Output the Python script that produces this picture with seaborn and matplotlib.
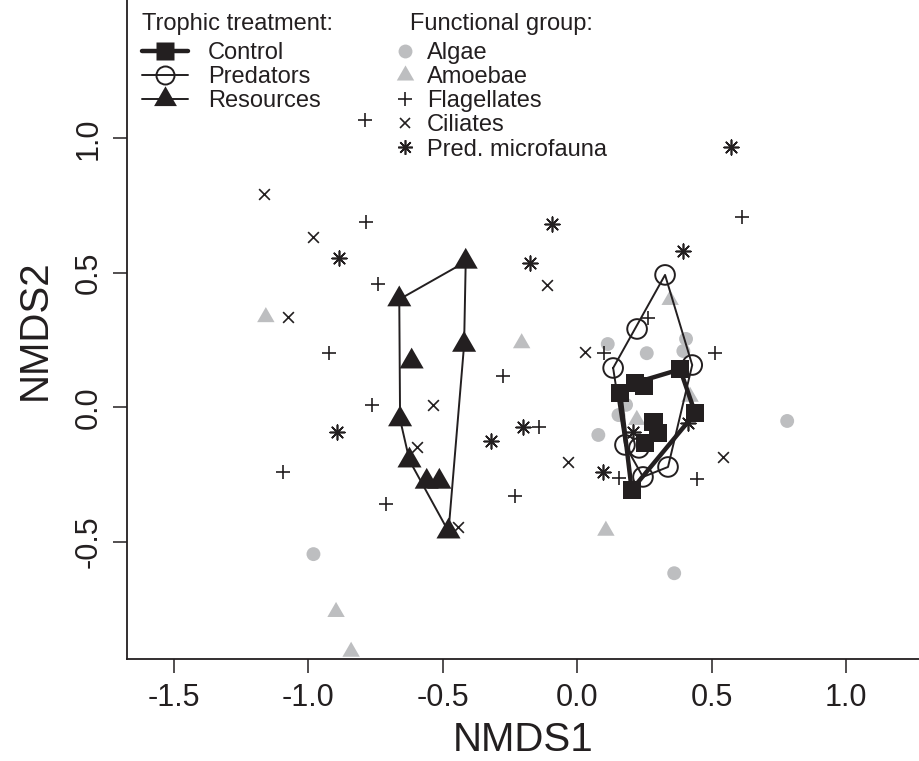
import numpy as np
import pandas as pd
import seaborn as sns
import matplotlib.pyplot as plt
from matplotlib.lines import Line2D

# species scores on the NMDS axes, one pair of lists per functional group
algae_x = [0.114, 0.259, 0.405, 0.395, 0.154, 0.079, 0.182, 0.361, 0.781, -0.980]
algae_y = [0.235, 0.201, 0.254, 0.209, -0.029, -0.103, 0.009, -0.617, -0.051, -0.546]

amoebae_x = [-1.157, -0.206, 0.346, 0.420, 0.222, 0.107, -0.896, -0.840]
amoebae_y = [0.335, 0.238, 0.399, 0.039, -0.047, -0.459, -0.761, -0.909]

flag_x = [-0.788, -0.784, -0.739, -0.922, -0.274, -0.763, -1.094, -0.710,
          -0.230, -0.142, 0.612, 0.100, 0.156, 0.265, 0.513, 0.445]
flag_y = [1.068, 0.690, 0.457, 0.201, 0.116, 0.009, -0.239, -0.361,
          -0.330, -0.074, 0.706, 0.201, -0.264, 0.331, 0.201, -0.268]

cil_x = [-1.162, -0.983, -1.073, -0.536, -0.596, -0.441, -0.113, 0.030, -0.032, 0.542]
cil_y = [0.792, 0.632, 0.335, 0.009, -0.149, -0.446, 0.455, 0.204, -0.202, -0.184]

predmf_x = [-0.885, -0.893, -0.321, -0.200, 0.571, -0.094, -0.175, 0.393, 0.096, 0.207, 0.414]
predmf_y = [0.554, -0.091, -0.125, -0.072, 0.967, 0.681, 0.538, 0.581, -0.239, -0.091, -0.059]

# site scores per trophic treatment
ctrl_x = [0.160, 0.216, 0.250, 0.383, 0.439, 0.284, 0.302, 0.253, 0.203]
ctrl_y = [0.052, 0.091, 0.079, 0.141, -0.022, -0.054, -0.097, -0.134, -0.307]

predt_x = [0.327, 0.223, 0.134, 0.428, 0.178, 0.230, 0.245, 0.338]
predt_y = [0.492, 0.291, 0.146, 0.157, -0.140, -0.151, -0.259, -0.222]

res_x = [-0.661, -0.414, -0.615, -0.420, -0.658, -0.623, -0.559, -0.512, -0.478]
res_y = [0.401, 0.541, 0.170, 0.232, -0.045, -0.198, -0.277, -0.277, -0.462]

x_ticks = [-1.5, -1.0, -0.5, 0.0, 0.5, 1.0]
y_ticks = [-0.5, 0.0, 0.5, 1.0]

black = "#231f20"
grey = "#bdbec0"
tri = [(-1, -0.577), (1, -0.577), (0, 1.155)]  # equilateral, like R pch 17
star = (8, 2, 0)  # + and x on top of each other, like R pch 8

sns.set_theme(style="ticks")
plt.rcParams["font.family"] = ["Liberation Sans", "DejaVu Sans"]
plt.rcParams["axes.unicode_minus"] = False


def hull(xs, ys):
    # convex hull, monotone chain
    pts = sorted(zip(xs, ys))
    def cross(o, a, b):
        return (a[0] - o[0]) * (b[1] - o[1]) - (a[1] - o[1]) * (b[0] - o[0])
    lower, upper = [], []
    for p in pts:
        while len(lower) >= 2 and cross(lower[-2], lower[-1], p) <= 0:
            lower.pop()
        lower.append(p)
    for p in reversed(pts):
        while len(upper) >= 2 and cross(upper[-2], upper[-1], p) <= 0:
            upper.pop()
        upper.append(p)
    h = lower[:-1] + upper[:-1]
    h.append(h[0])
    return [p[0] for p in h], [p[1] for p in h]


W, H = 919, 761
fig = plt.figure(figsize=(W / 100, H / 100), dpi=100)
ax = fig.add_axes([127.3 / W, 1 - 659.3 / H, 1 - 127.3 / W, 659.3 / H])

# species
sns.scatterplot(x=algae_x, y=algae_y, ax=ax, marker="o", s=100, color=grey,
                edgecolor="none", linewidth=0, zorder=2)
sns.scatterplot(x=amoebae_x, y=amoebae_y, ax=ax, marker=tri, s=210, color=grey,
                edgecolor="none", linewidth=0, zorder=2)
sns.scatterplot(x=flag_x, y=flag_y, ax=ax, marker="+", s=110, color=black,
                linewidth=1.2, zorder=2)
sns.scatterplot(x=cil_x, y=cil_y, ax=ax, marker="x", s=60, color=black,
                linewidth=1.2, zorder=2)
sns.scatterplot(x=predmf_x, y=predmf_y, ax=ax, marker=star, s=110, color=black,
                linewidth=1.2, zorder=2)

# treatment hulls
hx, hy = hull(res_x, res_y)
ax.plot(hx, hy, color=black, lw=1.4, zorder=3)
hx, hy = hull(predt_x, predt_y)
ax.plot(hx, hy, color=black, lw=1.4, zorder=3)
hx, hy = hull(ctrl_x, ctrl_y)
ax.plot(hx, hy, color=black, lw=3.2, zorder=3)

sns.scatterplot(x=res_x, y=res_y, ax=ax, marker=tri, s=400, color=black,
                edgecolor="none", linewidth=0, zorder=4)
sns.scatterplot(x=predt_x, y=predt_y, ax=ax, marker="o", s=200, facecolor="none",
                edgecolor=black, linewidth=1.4, zorder=4)
sns.scatterplot(x=ctrl_x, y=ctrl_y, ax=ax, marker="s", s=170, color=black,
                edgecolor="none", linewidth=0, zorder=4)

ax.set_xlim(-1.672, 1.271)
ax.set_ylim(-0.937, 1.514)
ax.set_xticks(x_ticks)
ax.set_xticklabels([f"{v:.1f}" for v in x_ticks])
ax.set_yticks(y_ticks)
ax.set_yticklabels([f"{v:.1f}" for v in y_ticks], rotation=90, va="center")
ax.tick_params(direction="out", length=10, width=1.1, labelsize=22, pad=7, colors=black)
for s in ["top", "right"]:
    ax.spines[s].set_visible(False)
for s in ["left", "bottom"]:
    ax.spines[s].set_linewidth(1.3)
    ax.spines[s].set_color(black)
ax.set_xlabel("NMDS1", fontsize=29, color=black)
ax.xaxis.label.set_va("baseline")
ax.xaxis.set_label_coords(0.5, (659.3 - 751) / 659.3)
ax.set_ylabel("NMDS2", fontsize=29, color=black, labelpad=14)

# legends
fig.text(142 / W, 1 - 30 / H, "Trophic treatment:", fontsize=17, color=black, va="baseline")
fig.text(410 / W, 1 - 30 / H, "Functional group:", fontsize=17, color=black, va="baseline")

h1 = [Line2D([], [], color=black, lw=3.2, marker="s", markersize=13, mec="none"),
      Line2D([], [], color=black, lw=1.4, marker="o", markersize=13, mfc="none", mew=1.4),
      Line2D([], [], color=black, lw=1.4, marker=tri, markersize=19, mec="none")]
leg1 = ax.legend(h1, ["Control", "Predators", "Resources"],
                 loc="upper left", bbox_to_anchor=(142 / W, 1 - 42 / H),
                 bbox_transform=fig.transFigure, frameon=False, fontsize=17,
                 handlelength=1.95, handletextpad=0.85,
                 labelspacing=0.09, borderpad=0, borderaxespad=0)
for t in leg1.get_texts():
    t.set_color(black)
ax.add_artist(leg1)

h2 = [Line2D([], [], ls="none", color=grey, marker="o", markersize=10, mec="none"),
      Line2D([], [], ls="none", color=grey, marker=tri, markersize=14.5, mec="none"),
      Line2D([], [], ls="none", color=black, marker="+", markersize=10.5, mew=1.2),
      Line2D([], [], ls="none", color=black, marker="x", markersize=7.7, mew=1.2),
      Line2D([], [], ls="none", color=black, marker=star, markersize=10.5, mew=1.2)]
leg2 = ax.legend(h2, ["Algae", "Amoebae", "Flagellates", "Ciliates", "Pred. microfauna"],
                 loc="upper left", bbox_to_anchor=(393 / W, 1 - 42 / H),
                 bbox_transform=fig.transFigure, frameon=False, fontsize=17,
                 handlelength=1.0, handletextpad=0.45, labelspacing=0.09,
                 borderpad=0, borderaxespad=0)
for t in leg2.get_texts():
    t.set_color(black)

fig.savefig("out.png", dpi=100)
